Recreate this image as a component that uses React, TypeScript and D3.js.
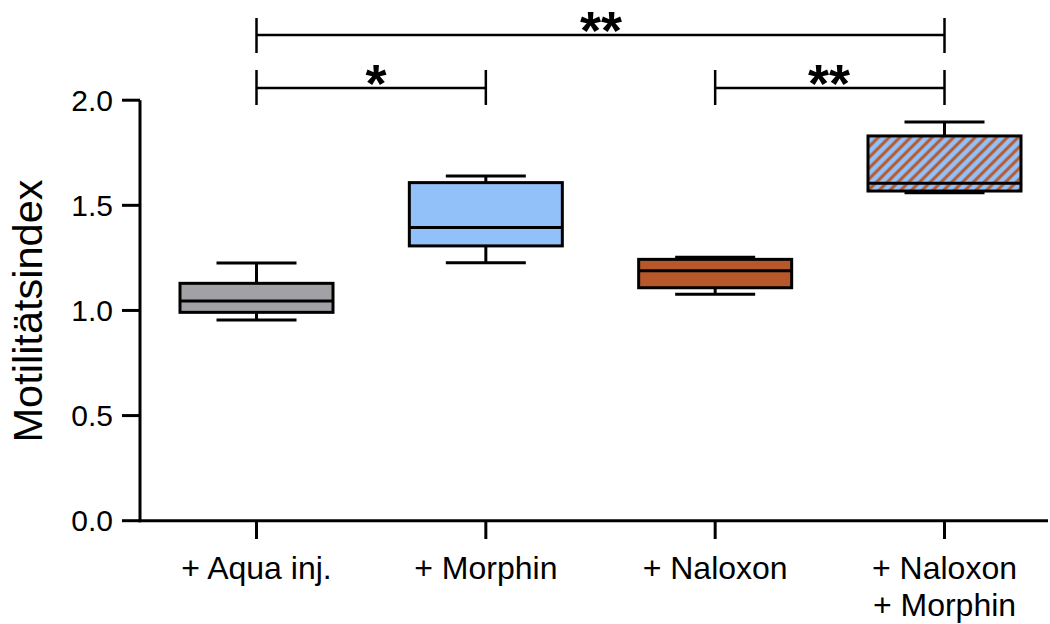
import React, { useEffect } from "react";
import * as d3 from "d3";

const categories = ["+ Aqua inj.", "+ Morphin", "+ Naloxon", "+ Naloxon\n+ Morphin"];
const whiskerLow = [0.955, 1.227, 1.077, 1.56];
const q1 = [0.991, 1.307, 1.108, 1.568];
const median = [1.045, 1.394, 1.189, 1.605];
const q3 = [1.129, 1.608, 1.243, 1.83];
const whiskerHigh = [1.226, 1.639, 1.253, 1.896];
const fills = ["#a2a1a6", "#92c0f8", "#b7582b", "url(#hatch)"];
const yTicks = [0, 0.5, 1.0, 1.5, 2.0];
const sigFrom = [0, 0, 2];
const sigTo = [3, 1, 3];
const sigLabel = ["**", "*", "**"];
const sigLevel = [0, 1, 1];

const W = 1050;
const H = 624;
const FONT = "'Liberation Sans', Arial, sans-serif";

export default function App() {
  useEffect(() => {
    document.body.style.margin = "0";
  }, []);

  const y = d3.scaleLinear().domain([0, 2]).range([520.7, 100.2]);
  const x = d3.scalePoint<number>().domain(d3.range(categories.length)).range([256.5, 944.5]);
  const axisX = 140;
  const boxW = 153;
  const capW = 80;
  const sw = 3;

  const levelLineY = [35, 88];
  const levelTop = [18, 70];
  const levelBottom = [53, 105];

  return (
    <svg width={W} height={H} style={{ display: "block", background: "#fff" }}>
      <defs>
        <pattern id="hatch" patternUnits="userSpaceOnUse" width={7.6} height={7.6} patternTransform="rotate(45)">
          <rect x={0} y={0} width={7.6} height={7.6} fill="#92c0f8" />
          <line x1={3.8} y1={-1} x2={3.8} y2={8.6} stroke="#b7582b" strokeWidth={3} />
        </pattern>
      </defs>

      {/* Y axis */}
      <line x1={axisX} x2={axisX} y1={y(2)} y2={y(0) + 1.5} stroke="#000" strokeWidth={sw} />
      {yTicks.map((t) => (
        <g key={t}>
          <line x1={122} x2={axisX} y1={y(t)} y2={y(t)} stroke="#000" strokeWidth={sw} />
          <text x={113} y={y(t) + 10.5} textAnchor="end" fontFamily={FONT} fontSize={30} fill="#000">
            {t.toFixed(1)}
          </text>
        </g>
      ))}
      <text
        transform={`translate(42, 311) rotate(-90)`}
        textAnchor="middle"
        fontFamily={FONT}
        fontSize={41.5}
        fill="#000"
      >
        Motilitätsindex
      </text>

      {/* X axis */}
      <line x1={axisX - 1.5} x2={1048} y1={y(0)} y2={y(0)} stroke="#000" strokeWidth={sw} />
      {categories.map((c, i) => (
        <g key={c}>
          <line x1={x(i)!} x2={x(i)!} y1={y(0)} y2={539} stroke="#000" strokeWidth={sw} />
          {c.split("\n").map((ln, j) => (
            <text
              key={j}
              x={x(i)!}
              y={579 + j * 37}
              textAnchor="middle"
              fontFamily={FONT}
              fontSize={32}
              fill="#000"
            >
              {ln}
            </text>
          ))}
        </g>
      ))}

      {/* Boxes */}
      {categories.map((c, i) => {
        const cx = x(i)!;
        return (
          <g key={"b" + i}>
            <line x1={cx} x2={cx} y1={y(whiskerHigh[i])} y2={y(q3[i])} stroke="#000" strokeWidth={sw} />
            <line x1={cx} x2={cx} y1={y(q1[i])} y2={y(whiskerLow[i])} stroke="#000" strokeWidth={sw} />
            <line x1={cx - capW / 2} x2={cx + capW / 2} y1={y(whiskerHigh[i])} y2={y(whiskerHigh[i])} stroke="#000" strokeWidth={sw} />
            <line x1={cx - capW / 2} x2={cx + capW / 2} y1={y(whiskerLow[i])} y2={y(whiskerLow[i])} stroke="#000" strokeWidth={sw} />
            <rect
              x={cx - boxW / 2}
              y={y(q3[i])}
              width={boxW}
              height={y(q1[i]) - y(q3[i])}
              fill={fills[i]}
              stroke="#000"
              strokeWidth={sw}
            />
            <line x1={cx - boxW / 2} x2={cx + boxW / 2} y1={y(median[i])} y2={y(median[i])} stroke="#000" strokeWidth={sw} />
          </g>
        );
      })}

      {/* Significance brackets */}
      {sigLabel.map((lab, k) => {
        const x1 = x(sigFrom[k])!;
        const x2 = x(sigTo[k])!;
        const lv = sigLevel[k];
        const ly = levelLineY[lv];
        const tx = k === 1 ? 376 : k === 0 ? 601 : 829;
        return (
          <g key={"s" + k}>
            <line x1={x1} x2={x2} y1={ly} y2={ly} stroke="#000" strokeWidth={2.5} />
            <line x1={x1} x2={x1} y1={levelTop[lv]} y2={levelBottom[lv]} stroke="#000" strokeWidth={2.5} />
            <line x1={x2} x2={x2} y1={levelTop[lv]} y2={levelBottom[lv]} stroke="#000" strokeWidth={2.5} />
            <text x={tx} y={ly + 14} textAnchor="middle" fontFamily={FONT} fontWeight="bold" fontSize={54} fill="#000">
              {lab}
            </text>
          </g>
        );
      })}
    </svg>
  );
}
